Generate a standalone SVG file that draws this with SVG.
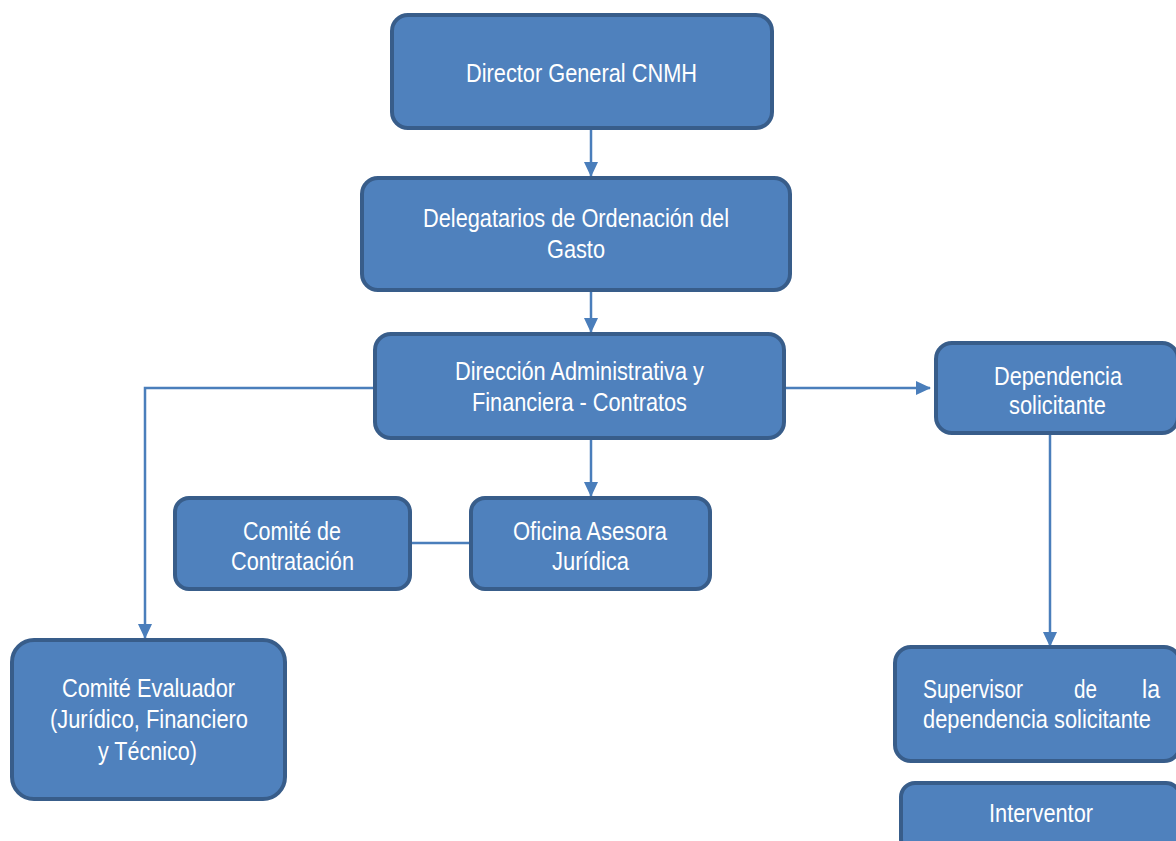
<svg xmlns="http://www.w3.org/2000/svg" width="1176" height="841" viewBox="0 0 1176 841">
<style>
.box{fill:#4f81bd;stroke:#385d8a;stroke-width:4}
.t{font-family:"Liberation Sans",Arial,sans-serif;font-size:26px;fill:#ffffff;text-anchor:start}
.c{fill:none;stroke:#4a7ebb;stroke-width:2.5}
</style>
<defs>
<marker id="ah" markerWidth="16" markerHeight="16" refX="14" refY="7" orient="auto" markerUnits="userSpaceOnUse">
<path d="M0,0 L15,7 L0,14 Z" fill="#4a7ebb"/>
</marker>
</defs>
<rect width="1176" height="841" fill="#ffffff"/>
<g id="connectors">
<line class="c" x1="591" y1="128" x2="591" y2="176" marker-end="url(#ah)"/>
<line class="c" x1="591" y1="290" x2="591" y2="332" marker-end="url(#ah)"/>
<line class="c" x1="591" y1="438" x2="591" y2="496" marker-end="url(#ah)"/>
<polyline class="c" points="375,388 145,388 145,638" marker-end="url(#ah)"/>
<line class="c" x1="784" y1="388" x2="930" y2="388" marker-end="url(#ah)"/>
<line class="c" x1="1050" y1="433" x2="1050" y2="646" marker-end="url(#ah)"/>
<line class="c" x1="410" y1="543" x2="471" y2="543"/>
</g>
<g id="n1"><rect class="box" x="392" y="15" width="380" height="113" rx="16"/>
<text class="t" x="466" y="82" textLength="231" lengthAdjust="spacingAndGlyphs">Director General CNMH</text></g>
<g id="n2"><rect class="box" x="362" y="178" width="428" height="112" rx="16"/>
<text class="t" x="423" y="227" textLength="306" lengthAdjust="spacingAndGlyphs">Delegatarios de Ordenación del</text>
<text class="t" x="547" y="258" textLength="58" lengthAdjust="spacingAndGlyphs">Gasto</text></g>
<g id="n3"><rect class="box" x="375" y="334" width="409" height="104" rx="16"/>
<text class="t" x="455" y="380" textLength="249" lengthAdjust="spacingAndGlyphs">Dirección Administrativa y</text>
<text class="t" x="472" y="411" textLength="215" lengthAdjust="spacingAndGlyphs">Financiera - Contratos</text></g>
<g id="n4"><rect class="box" x="936" y="343" width="242" height="90" rx="16"/>
<text class="t" x="994" y="385" textLength="128" lengthAdjust="spacingAndGlyphs">Dependencia</text>
<text class="t" x="1009" y="414" textLength="97" lengthAdjust="spacingAndGlyphs">solicitante</text></g>
<g id="n5"><rect class="box" x="175" y="498" width="235" height="91" rx="14"/>
<text class="t" x="243" y="540" textLength="98" lengthAdjust="spacingAndGlyphs">Comité de</text>
<text class="t" x="231" y="570" textLength="123" lengthAdjust="spacingAndGlyphs">Contratación</text></g>
<g id="n6"><rect class="box" x="471" y="498" width="239" height="91" rx="14"/>
<text class="t" x="513" y="540" textLength="154" lengthAdjust="spacingAndGlyphs">Oficina Asesora</text>
<text class="t" x="552" y="570" textLength="77" lengthAdjust="spacingAndGlyphs">Jurídica</text></g>
<g id="n7"><rect class="box" x="12" y="640" width="273" height="159" rx="22"/>
<text class="t" x="62" y="697" textLength="173" lengthAdjust="spacingAndGlyphs">Comité Evaluador</text>
<text class="t" x="50" y="728" textLength="198" lengthAdjust="spacingAndGlyphs">(Jurídico, Financiero</text>
<text class="t" x="98" y="760" textLength="99" lengthAdjust="spacingAndGlyphs">y Técnico)</text></g>
<g id="n8"><rect class="box" x="895" y="647" width="285" height="114" rx="16"/>
<text class="t" x="923" y="698" textLength="100" lengthAdjust="spacingAndGlyphs">Supervisor</text>
<text class="t" x="1074" y="698" textLength="23" lengthAdjust="spacingAndGlyphs">de</text>
<text class="t" x="1142" y="698" textLength="18" lengthAdjust="spacingAndGlyphs">la</text>
<text class="t" x="923" y="728" textLength="228" lengthAdjust="spacingAndGlyphs">dependencia solicitante</text></g>
<g id="n9"><rect class="box" x="901" y="783" width="279" height="70" rx="14"/>
<text class="t" x="989" y="822" textLength="104" lengthAdjust="spacingAndGlyphs">Interventor</text></g>
</svg>
